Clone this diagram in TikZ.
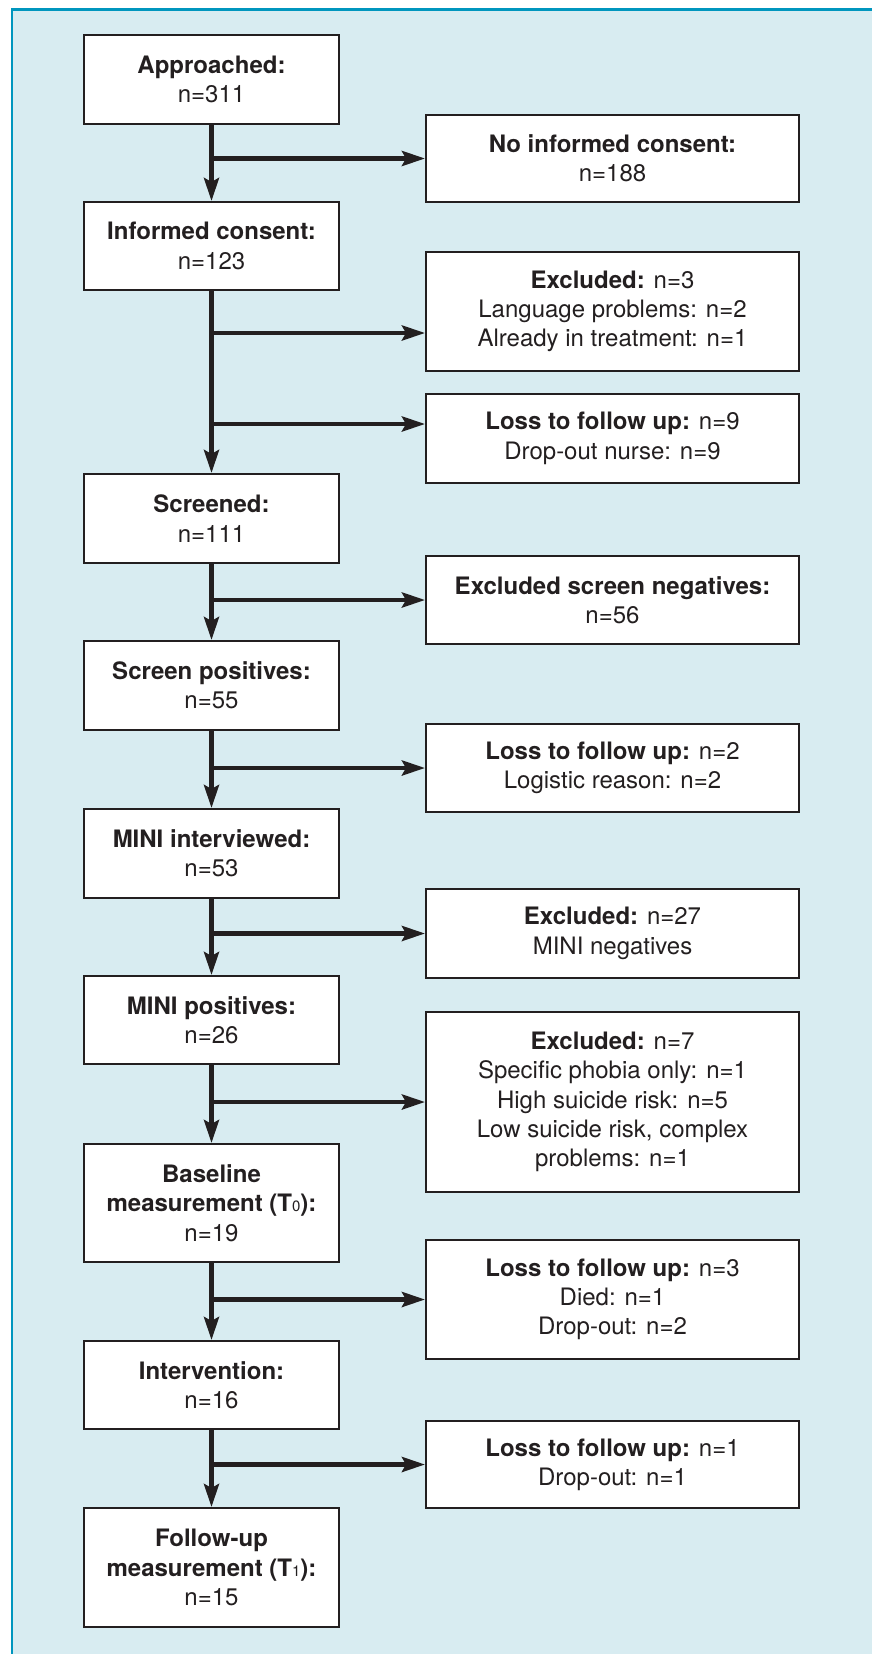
\documentclass[tikz,border=0pt]{standalone}
\usepackage{fontspec}
\setmainfont{TeX Gyre Heros}
\usetikzlibrary{arrows.meta}
\definecolor{bgblue}{RGB}{216,236,241}
\definecolor{bordteal}{RGB}{0,150,190}
\definecolor{ink}{RGB}{35,31,32}
\begin{document}
\begin{tikzpicture}[x=1pt,y=-1pt,
  box/.style={draw=ink,fill=white,line width=2pt,rectangle,inner sep=0pt,align=center,
    text=ink,font=\fontsize{24}{29.3}\selectfont},
  lbox/.style={box,minimum width=255pt},
  rbox/.style={box,minimum width=373pt},
  arr/.style={draw=ink,line width=4.5pt,-{Stealth[length=23pt,width=15pt,inset=4pt]}}]
\useasboundingbox (0,0) rectangle (872,1654);
\fill[bgblue] (13,9.5) rectangle (872,1654);
\draw[bordteal,line width=2.5pt] (12,1654) -- (12,9.5) -- (872,9.5);
\newcommand{\sub}[1]{{\mdseries\fontsize{15}{15}\selectfont #1}}
% left column
\node[lbox,minimum height=89pt] (l1) at (211.5,79.5) {\textbf{Approached:}\\n=311};
\node[lbox,minimum height=88pt] (l2) at (211.5,246) {\textbf{Informed consent:}\\n=123};
\node[lbox,minimum height=89pt] (l3) at (211.5,518.5) {\textbf{Screened:}\\n=111};
\node[lbox,minimum height=89pt] (l4) at (211.5,685.5) {\textbf{Screen positives:}\\n=55};
\node[lbox,minimum height=89pt] (l5) at (211.5,853.5) {\textbf{MINI interviewed:}\\n=53};
\node[lbox,minimum height=88pt] (l6) at (211.5,1020) {\textbf{MINI positives:}\\n=26};
\node[lbox,minimum height=118pt] (l7) at (211.5,1203) {\textbf{Baseline}\\\textbf{measurement (T\sub{0}):}\\n=19};
\node[lbox,minimum height=88pt] (l8) at (211.5,1385) {\textbf{Intervention:}\\n=16};
\node[lbox,minimum height=119pt] (l9) at (211.5,1567.5) {\textbf{Follow-up}\\\textbf{measurement (T\sub{1}):}\\n=15};
% right column
\node[rbox,minimum height=87pt] (ra) at (612.5,158.5) {\textbf{No informed consent:}\\n=188};
\node[rbox,minimum height=119pt] (rb) at (612.5,311.5) {\textbf{Excluded:} n=3\\Language problems: n=2\\Already in treatment: n=1};
\node[rbox,minimum height=89pt] (rc) at (612.5,438.5) {\textbf{Loss to follow up:} n=9\\Drop-out nurse: n=9};
\node[rbox,minimum height=88pt] (rd) at (612.5,600) {\textbf{Excluded screen negatives:}\\n=56};
\node[rbox,minimum height=88pt] (re) at (612.5,768) {\textbf{Loss to follow up:} n=2\\Logistic reason: n=2};
\node[rbox,minimum height=89pt] (rf) at (612.5,933.5) {\textbf{Excluded:} n=27\\MINI negatives};
\node[rbox,minimum height=180pt] (rg) at (612.5,1102) {\textbf{Excluded:} n=7\\Specific phobia only: n=1\\High suicide risk: n=5\\Low suicide risk, complex\\problems: n=1};
\node[rbox,minimum height=119pt] (rh) at (612.5,1299.5) {\textbf{Loss to follow up:} n=3\\Died: n=1\\Drop-out: n=2};
\node[rbox,minimum height=87pt] (ri) at (612.5,1464.5) {\textbf{Loss to follow up:} n=1\\Drop-out: n=1};
% trunk arrows
\draw[arr] (l1.south) -- (l2.north);
\draw[arr] (l2.south) -- (l3.north);
\draw[arr] (l3.south) -- (l4.north);
\draw[arr] (l4.south) -- (l5.north);
\draw[arr] (l5.south) -- (l6.north);
\draw[arr] (l6.south) -- (l7.north);
\draw[arr] (l7.south) -- (l8.north);
\draw[arr] (l8.south) -- (l9.north);
% side arrows
\coordinate (jb) at (211.5,333);
\coordinate (jc) at (211.5,424);
\draw[arr] (ra.west -| l1.south) -- (ra.west);
\draw[arr] (jb) -- (jb -| rb.west);
\draw[arr] (jc) -- (jc -| rc.west);
\draw[arr] (rd.west -| l3.south) -- (rd.west);
\draw[arr] (re.west -| l4.south) -- (re.west);
\draw[arr] (rf.west -| l5.south) -- (rf.west);
\draw[arr] (rg.west -| l6.south) -- (rg.west);
\draw[arr] (rh.west -| l7.south) -- (rh.west);
\draw[arr] (ri.west -| l8.south) -- (ri.west);
\end{tikzpicture}
\end{document}
